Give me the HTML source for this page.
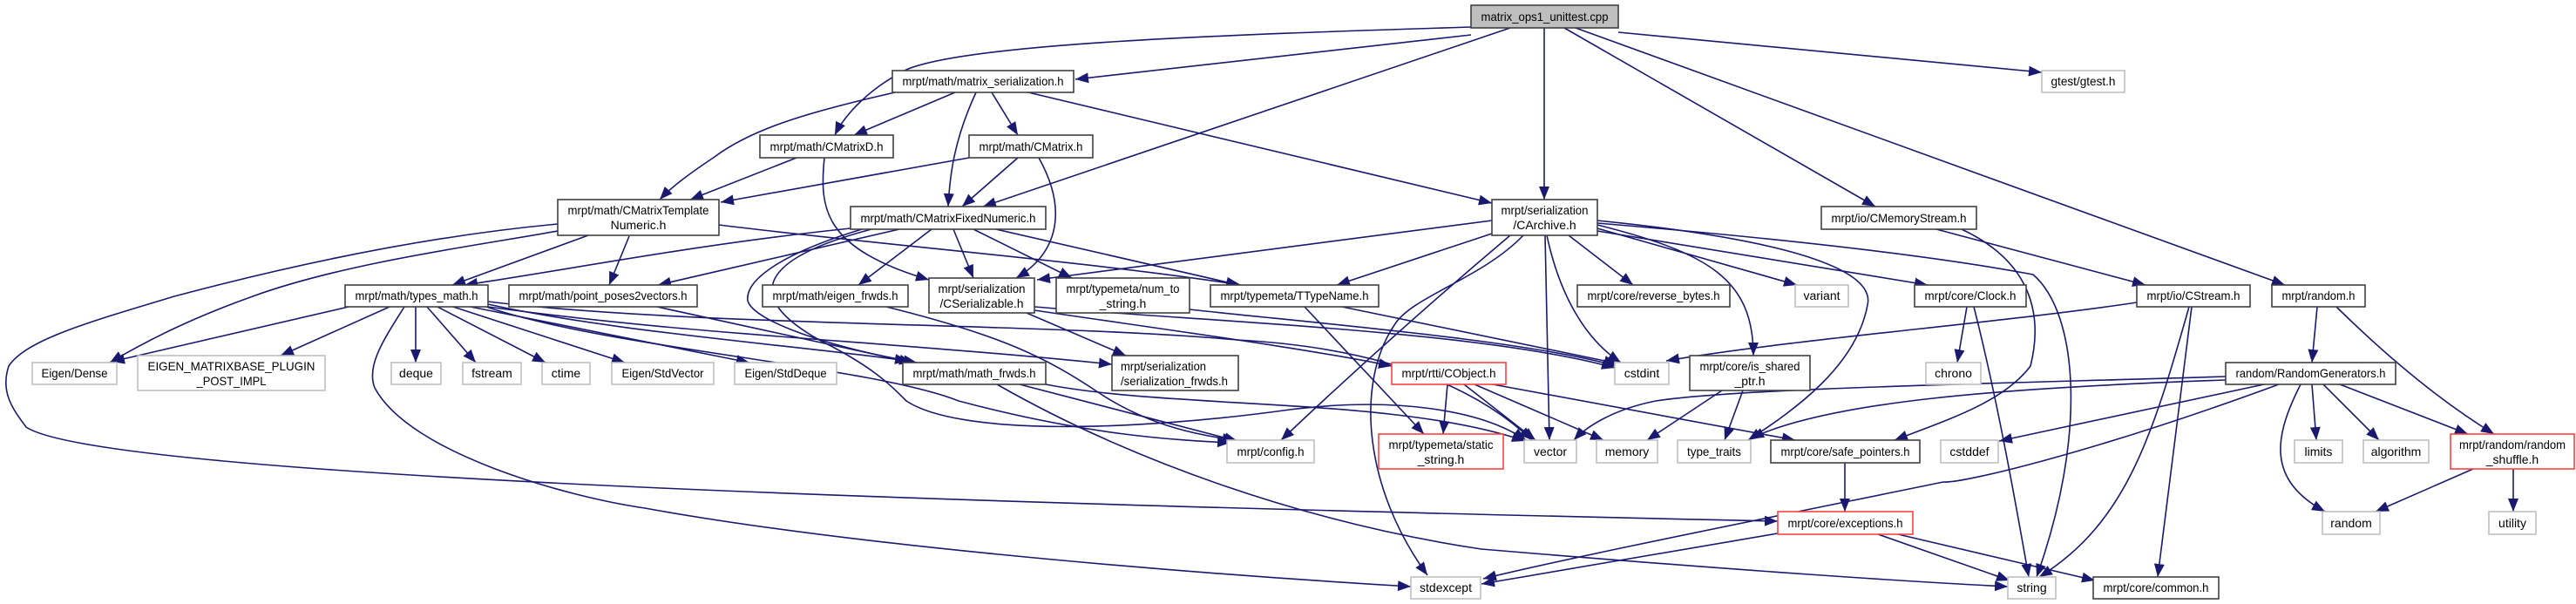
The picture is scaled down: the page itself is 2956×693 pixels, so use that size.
<!DOCTYPE html>
<html><head><meta charset="utf-8"><style>
html,body{margin:0;padding:0;background:#fff;}
svg{display:block;}
text{font-family:"Liberation Sans",sans-serif;font-size:14px;fill:#000;text-anchor:middle;}
.e{fill:none;stroke:#191970;stroke-width:1.6;}
.n{fill:#fff;stroke:#404040;stroke-width:1.6;}
.g{fill:#fff;stroke:#bfbfbf;stroke-width:1.6;}
.r{fill:#fff;stroke:#ff4040;stroke-width:1.6;}
</style></head><body>
<svg width="2956" height="693" viewBox="0 0 2956 693" xmlns="http://www.w3.org/2000/svg">
<defs><marker id="a" markerUnits="userSpaceOnUse" markerWidth="16" markerHeight="12" refX="15" refY="6" orient="auto"><path d="M0,0 L15,6 L0,12 z" fill="#191970"/></marker></defs>
<g class="e" marker-end="url(#a)">
<!-- from cpp -->
<path d="M1688,40 L1234,91"/>
<path d="M1688,31 C1400,40 1110,50 1040,80 C1000,100 970,130 958,155"/>
<path d="M1733,32 L1128,237"/>
<path d="M1772,32 L1772,229"/>
<path d="M1795,32 L2152,237"/>
<path d="M1808,32 L2622,327"/>
<path d="M1857,37 L2343,83"/>
<!-- matrix_serialization -->
<path d="M1096,106 L980,155"/>
<path d="M1138,106 L1168,155"/>
<path d="M1120,106 C1095,160 1090,200 1088,237"/>
<path d="M1027,106 C920,130 860,150 820,180 C790,200 770,215 757,229"/>
<path d="M1180,106 L1712,233"/>
<!-- CMatrixD -->
<path d="M914,181 L792,229"/>
<path d="M946,181 C940,240 945,285 1066,321"/>
<!-- CMatrix -->
<path d="M1112,181 L827,232"/>
<path d="M1168,181 L1104,237"/>
<path d="M1192,181 C1225,240 1215,290 1166,319"/>
<!-- CMatrixTemplateNumeric -->
<path d="M675,270 L519,327"/>
<path d="M722,271 L699,327"/>
<path d="M640,265 C560,280 400,300 290,340 C220,365 170,390 126,416"/>
<path d="M640,257 C500,270 350,300 200,340 C100,370 30,390 10,420 C0,450 15,470 30,490 C120,550 1200,580 2040,598"/>
<path d="M825,258 C1000,280 1250,300 1424,327"/>
<!-- CMatrixFixedNumeric -->
<path d="M976,262 C800,280 650,310 533,327"/>
<path d="M1032,263 L755,327"/>
<path d="M1069,263 L985,327"/>
<path d="M1094,263 L1117,319"/>
<path d="M1117,263 L1230,319"/>
<path d="M1143,263 L1422,327"/>
<path d="M989,263 C900,290 855,320 858,345 C865,370 960,400 1052,416"/>
<path d="M1000,263 C860,300 860,345 940,390 C1000,420 1020,440 1040,460 C1100,500 1300,495 1480,470 C1600,455 1700,470 1751,505"/>
<!-- types_math -->
<path d="M400,352 L128,415"/>
<path d="M447,352 L322,408"/>
<path d="M477,352 L477,416"/>
<path d="M490,352 L546,416"/>
<path d="M502,352 L626,416"/>
<path d="M520,352 L717,416"/>
<path d="M540,352 L860,416"/>
<path d="M560,349 C700,380 900,395 1042,414"/>
<path d="M560,352 C800,385 1000,390 1276,418"/>
<path d="M560,346 C800,375 1200,370 1420,390 C1600,400 1700,450 1758,505"/>
<path d="M558,352 C700,400 1000,420 1100,460 C1250,500 1350,505 1412,508"/>
<path d="M464,352 C440,390 420,420 430,445 C470,520 650,570 740,583 C1000,630 1400,660 1619,673"/>
<!-- point_poses2vectors -->
<path d="M754,352 L1047,416"/>
<!-- math_frwds / eigen_frwds -->
<path d="M1170,441 L1420,506"/>
<path d="M1144,441 C1300,530 1500,600 1700,630 C2000,655 2200,668 2304,673"/>
<path d="M1200,441 C1350,470 1600,455 1750,506"/>
<path d="M1017,352 C1150,385 1200,410 1260,450 C1320,490 1380,500 1418,505"/>
<!-- CSerializable / num_to_string / TTypeName -->
<path d="M1178,359 L1292,408"/>
<path d="M1187,356 C1350,380 1500,400 1597,420"/>
<path d="M1187,352 C1400,370 1700,380 1853,422"/>
<path d="M1365,355 C1500,370 1750,390 1855,420"/>
<path d="M1540,352 L1856,417"/>
<path d="M1497,352 L1634,498"/>
<!-- CArchive -->
<path d="M1712,253 L1190,321"/>
<path d="M1712,268 L1534,327"/>
<path d="M1733,270 C1650,340 1560,420 1470,505"/>
<path d="M1748,270 C1700,320 1620,340 1600,373 C1555,440 1565,560 1638,660"/>
<path d="M1773,270 L1778,505"/>
<path d="M1775,270 C1790,340 1820,390 1860,416"/>
<path d="M1800,270 L1874,327"/>
<path d="M1833,262 L2062,327"/>
<path d="M1833,258 C1960,290 2012,320 2012,408"/>
<path d="M1833,253 C2100,280 2150,320 2143,350 C2130,420 2060,470 2006,505"/>
<path d="M1833,256 C2000,270 2200,290 2333,315 C2385,360 2395,500 2337,662"/>
<path d="M1833,265 L2212,327"/>
<!-- CMemoryStream -->
<path d="M2222,263 L2462,327"/>
<path d="M2251,263 C2330,300 2345,360 2330,420 C2300,460 2240,480 2174,505"/>
<!-- Clock -->
<path d="M2257,352 L2246,416"/>
<path d="M2265,352 C2290,450 2310,560 2328,662"/>
<!-- CStream -->
<path d="M2452,347 C2300,370 2050,390 1912,414"/>
<path d="M2512,352 C2470,500 2440,600 2340,662"/>
<path d="M2515,352 L2476,662"/>
<!-- random.h -->
<path d="M2659,352 L2653,416"/>
<path d="M2681,352 C2740,410 2800,460 2862,498"/>
<!-- RandomGenerators -->
<path d="M2554,432 C2300,440 2000,445 1900,460 C1850,470 1820,490 1806,505"/>
<path d="M2554,436 C2300,445 2100,460 2009,503"/>
<path d="M2598,441 L2294,506"/>
<path d="M2615,441 C2400,520 2250,555 2230,553 C2000,600 1800,640 1702,664"/>
<path d="M2640,441 C2610,500 2600,550 2668,587"/>
<path d="M2653,441 L2658,505"/>
<path d="M2666,441 L2730,505"/>
<path d="M2685,441 L2832,498"/>
<!-- random_shuffle -->
<path d="M2838,538 L2726,587"/>
<path d="M2884,538 L2884,587"/>
<!-- is_shared_ptr -->
<path d="M1976,448 L1890,505"/>
<path d="M2000,448 L1979,505"/>
<!-- CObject -->
<path d="M1661,441 L1656,498"/>
<path d="M1680,441 L1762,505"/>
<path d="M1692,441 L1840,505"/>
<path d="M1713,441 L2060,505"/>
<!-- safe_pointers / exceptions -->
<path d="M2117,531 L2117,587"/>
<path d="M2040,612 L1700,670"/>
<path d="M2155,613 L2306,666"/>
<path d="M2178,613 L2404,666"/>
</g>
<!-- nodes -->
<rect x="1688" y="6" width="169" height="26" fill="#bfbfbf" stroke="#404040" stroke-width="1.6"/><text x="1772.5" y="24" textLength="146" lengthAdjust="spacingAndGlyphs">matrix_ops1_unittest.cpp</text>
<rect class="n" x="1024" y="81" width="208" height="25"/><text x="1128" y="98" textLength="185" lengthAdjust="spacingAndGlyphs">mrpt/math/matrix_serialization.h</text>
<rect class="g" x="2343" y="81" width="95" height="25"/><text x="2390.5" y="98" textLength="74" lengthAdjust="spacingAndGlyphs">gtest/gtest.h</text>
<rect class="n" x="872" y="155" width="153" height="26"/><text x="948.5" y="173" textLength="130" lengthAdjust="spacingAndGlyphs">mrpt/math/CMatrixD.h</text>
<rect class="n" x="1112" y="155" width="142" height="26"/><text x="1183" y="173" textLength="119" lengthAdjust="spacingAndGlyphs">mrpt/math/CMatrix.h</text>
<rect class="n" x="640" y="229" width="185" height="41"/><text x="732.5" y="246" textLength="162" lengthAdjust="spacingAndGlyphs">mrpt/math/CMatrixTemplate</text><text x="732.5" y="263">Numeric.h</text>
<rect class="n" x="976" y="237" width="224" height="26"/><text x="1088" y="255" textLength="201" lengthAdjust="spacingAndGlyphs">mrpt/math/CMatrixFixedNumeric.h</text>
<rect class="n" x="1712" y="229" width="121" height="41"/><text x="1772.5" y="246" textLength="100" lengthAdjust="spacingAndGlyphs">mrpt/serialization</text><text x="1772.5" y="263">/CArchive.h</text>
<rect class="n" x="2090" y="237" width="178" height="26"/><text x="2179" y="255" textLength="155" lengthAdjust="spacingAndGlyphs">mrpt/io/CMemoryStream.h</text>
<rect class="n" x="396" y="327" width="164" height="25"/><text x="478" y="344" textLength="141" lengthAdjust="spacingAndGlyphs">mrpt/math/types_math.h</text>
<rect class="n" x="584" y="327" width="216" height="25"/><text x="692" y="344" textLength="193" lengthAdjust="spacingAndGlyphs">mrpt/math/point_poses2vectors.h</text>
<rect class="n" x="875" y="327" width="167" height="25"/><text x="958.5" y="344" textLength="144" lengthAdjust="spacingAndGlyphs">mrpt/math/eigen_frwds.h</text>
<rect class="n" x="1066" y="319" width="121" height="40"/><text x="1126.5" y="336" textLength="100" lengthAdjust="spacingAndGlyphs">mrpt/serialization</text><text x="1126.5" y="353" textLength="96" lengthAdjust="spacingAndGlyphs">/CSerializable.h</text>
<rect class="n" x="1212" y="319" width="153" height="40"/><text x="1288.5" y="336" textLength="130" lengthAdjust="spacingAndGlyphs">mrpt/typemeta/num_to</text><text x="1288.5" y="353">_string.h</text>
<rect class="n" x="1389" y="327" width="193" height="25"/><text x="1485.5" y="344" textLength="170" lengthAdjust="spacingAndGlyphs">mrpt/typemeta/TTypeName.h</text>
<rect class="n" x="1810" y="327" width="175" height="25"/><text x="1897.5" y="344" textLength="152" lengthAdjust="spacingAndGlyphs">mrpt/core/reverse_bytes.h</text>
<rect class="g" x="2060" y="327" width="61" height="25"/><text x="2090.5" y="344">variant</text>
<rect class="n" x="2197" y="327" width="128" height="25"/><text x="2261" y="344" textLength="105" lengthAdjust="spacingAndGlyphs">mrpt/core/Clock.h</text>
<rect class="n" x="2452" y="327" width="130" height="25"/><text x="2517" y="344" textLength="107" lengthAdjust="spacingAndGlyphs">mrpt/io/CStream.h</text>
<rect class="n" x="2607" y="327" width="107" height="25"/><text x="2660.5" y="344" textLength="84" lengthAdjust="spacingAndGlyphs">mrpt/random.h</text>
<rect class="g" x="37" y="416" width="97" height="25"/><text x="85.5" y="433" textLength="76" lengthAdjust="spacingAndGlyphs">Eigen/Dense</text>
<rect class="g" x="158" y="408" width="215" height="40"/><text x="265.5" y="425" textLength="192" lengthAdjust="spacingAndGlyphs">EIGEN_MATRIXBASE_PLUGIN</text><text x="265.5" y="442" textLength="80" lengthAdjust="spacingAndGlyphs">_POST_IMPL</text>
<rect class="g" x="449" y="416" width="57" height="25"/><text x="477.5" y="433">deque</text>
<rect class="g" x="531" y="416" width="67" height="25"/><text x="564.5" y="433">fstream</text>
<rect class="g" x="622" y="416" width="55" height="25"/><text x="649.5" y="433">ctime</text>
<rect class="g" x="702" y="416" width="117" height="25"/><text x="760.5" y="433" textLength="94" lengthAdjust="spacingAndGlyphs">Eigen/StdVector</text>
<rect class="g" x="843" y="416" width="117" height="25"/><text x="901.5" y="433" textLength="94" lengthAdjust="spacingAndGlyphs">Eigen/StdDeque</text>
<rect class="n" x="1036" y="416" width="164" height="25"/><text x="1118" y="433" textLength="141" lengthAdjust="spacingAndGlyphs">mrpt/math/math_frwds.h</text>
<rect class="n" x="1276" y="408" width="145" height="40"/><text x="1286" y="425" style="text-anchor:start" textLength="98" lengthAdjust="spacingAndGlyphs">mrpt/serialization</text><text x="1286" y="442" style="text-anchor:start" textLength="123" lengthAdjust="spacingAndGlyphs">/serialization_frwds.h</text>
<rect class="r" x="1597" y="416" width="131" height="25"/><text x="1662.5" y="433" textLength="108" lengthAdjust="spacingAndGlyphs">mrpt/rtti/CObject.h</text>
<rect class="g" x="1853" y="416" width="62" height="25"/><text x="1884" y="433">cstdint</text>
<rect class="n" x="1939" y="408" width="138" height="40"/><text x="2008" y="425" textLength="115" lengthAdjust="spacingAndGlyphs">mrpt/core/is_shared</text><text x="2008" y="442">_ptr.h</text>
<rect class="g" x="2210" y="416" width="63" height="25"/><text x="2241.5" y="433">chrono</text>
<rect class="n" x="2554" y="416" width="195" height="25"/><text x="2651.5" y="433" textLength="172" lengthAdjust="spacingAndGlyphs">random/RandomGenerators.h</text>
<rect class="g" x="1408" y="505" width="100" height="26"/><text x="1458" y="523" textLength="77" lengthAdjust="spacingAndGlyphs">mrpt/config.h</text>
<rect class="r" x="1582" y="498" width="143" height="40"/><text x="1653.5" y="515" textLength="120" lengthAdjust="spacingAndGlyphs">mrpt/typemeta/static</text><text x="1653.5" y="532">_string.h</text>
<rect class="g" x="1749" y="505" width="60" height="26"/><text x="1779" y="523">vector</text>
<rect class="g" x="1832" y="505" width="70" height="26"/><text x="1867" y="523">memory</text>
<rect class="g" x="1925" y="505" width="84" height="26"/><text x="1967" y="523" textLength="62" lengthAdjust="spacingAndGlyphs">type_traits</text>
<rect class="n" x="2032" y="505" width="171" height="26"/><text x="2117.5" y="523" textLength="148" lengthAdjust="spacingAndGlyphs">mrpt/core/safe_pointers.h</text>
<rect class="g" x="2227" y="505" width="66" height="26"/><text x="2260" y="523">cstddef</text>
<rect class="g" x="2633" y="505" width="55" height="26"/><text x="2660.5" y="523">limits</text>
<rect class="g" x="2712" y="505" width="75" height="26"/><text x="2749.5" y="523">algorithm</text>
<rect class="r" x="2812" y="498" width="142" height="40"/><text x="2883" y="515" textLength="122" lengthAdjust="spacingAndGlyphs">mrpt/random/random</text><text x="2883" y="532">_shuffle.h</text>
<rect class="r" x="2040" y="587" width="155" height="26"/><text x="2117.5" y="605" textLength="132" lengthAdjust="spacingAndGlyphs">mrpt/core/exceptions.h</text>
<rect class="g" x="2665" y="587" width="66" height="26"/><text x="2698" y="605">random</text>
<rect class="g" x="2856" y="587" width="54" height="26"/><text x="2883" y="605">utility</text>
<rect class="g" x="1619" y="662" width="80" height="25"/><text x="1659" y="679">stdexcept</text>
<rect class="g" x="2304" y="662" width="55" height="25"/><text x="2331.5" y="679">string</text>
<rect class="n" x="2402" y="662" width="144" height="25"/><text x="2474" y="679" textLength="121" lengthAdjust="spacingAndGlyphs">mrpt/core/common.h</text>
</svg>
</body></html>
